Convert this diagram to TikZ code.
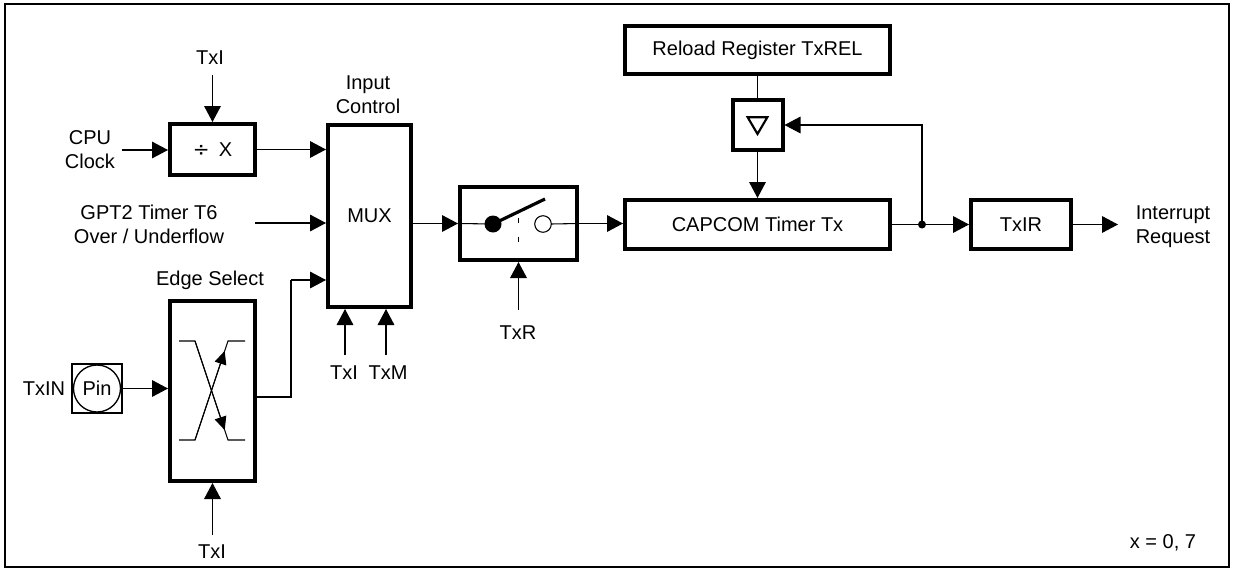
\documentclass[tikz,border=0pt]{standalone}
\usepackage{fontspec}
\setmainfont{Liberation Sans}
\newfontfamily\symfont{DejaVu Sans}
\usetikzlibrary{arrows.meta,calc}
\begin{document}
\begin{tikzpicture}[x=0.75pt,y=-0.75pt,
  font=\fontsize{15}{18}\selectfont,
  conn/.style={line width=0.8pt},
  arr/.style={conn,-{Triangle[length=12pt,width=12.5pt]}},
  sarr/.style={conn,-{Triangle[length=10pt,width=9pt]}},
  blk/.style={draw,line width=3pt,rectangle,inner sep=0pt,align=center},
  lbl/.style={inner sep=0pt,align=center}]
\useasboundingbox (0,0) rectangle (1234,571);
\draw[line width=1.5pt] (5,4) rectangle (1229,567);

% blocks
\node[blk,minimum width=85*0.75pt,minimum height=51*0.75pt] (div) at (212.5,149.5) {{\symfont\fontsize{15}{15}\selectfont ÷}\hspace{7pt}X};
\node[blk,minimum width=83*0.75pt,minimum height=182*0.75pt] (mux) at (369.5,216) {MUX};
\node[blk,minimum width=117*0.75pt,minimum height=73*0.75pt] (sw) at (518.5,223.5) {};
\node[blk,minimum width=265*0.75pt,minimum height=49*0.75pt] (cap) at (757.5,224.5) {CAPCOM Timer Tx};
\node[blk,minimum width=265*0.75pt,minimum height=48*0.75pt] (rel) at (757.5,50) {Reload Register TxREL};
\node[blk,minimum width=50*0.75pt,minimum height=50*0.75pt] (tri) at (757.5,125) {};
\node[blk,minimum width=100*0.75pt,minimum height=49*0.75pt] (txir) at (1021,224.5) {TxIR};
\node[blk,minimum width=85*0.75pt,minimum height=180*0.75pt] (edge) at (212.5,391) {};
\node[draw,line width=0.8pt,minimum width=50*0.75pt,minimum height=49*0.75pt,inner sep=0pt] (pin) at (97,388.5) {};
\node[draw,circle,line width=1pt,minimum size=47*0.75pt,inner sep=0pt] (pinc) at (97,388.5) {Pin};

% labels
\node[lbl] (cpu) at (90,150) {CPU\\Clock};
\node[lbl] (gpt) at (149,224) {GPT2 Timer T6\\Over / Underflow};
\node[lbl] (es) at (210,280) {Edge Select};
\node[lbl] (ic) at (368,95) {Input\\Control};
\node[lbl] (txi1) at (210,58) {TxI};
\node[lbl] (txin) at (44,388.5) {TxIN};
\node[lbl] (txi2) at (212,552) {TxI};
\node[lbl] (txi3) at (344,373) {TxI};
\node[lbl] (txm) at (388,373) {TxM};
\node[lbl] (txr) at (518,333) {TxR};
\node[lbl] (irq) at (1173,227) {Interrupt\\Request};
\node[lbl] (xeq) at (1163,543) {x = 0, 7};

% free ends
\coordinate (cpuo) at (122,150);
\coordinate (gpto) at (255,223);
\coordinate (txi1o) at (212.5,75);
\coordinate (txi2o) at (212.5,535);
\coordinate (m1) at (345,355);
\coordinate (m2) at (386,355);
\coordinate (txro) at (518.5,310);
\coordinate (eo) at (255,397);
\coordinate (ej) at (291,280);
\coordinate (jn) at (922,224.5);
\coordinate (out) at (1118,224.5);

% connectors
\draw[arr] (cpuo) -- (cpuo -| div.west);
\draw[arr] (txi1o) -- (div.north);
\draw[arr] (div.east) -- (div.east -| mux.west);
\draw[arr] (gpto) -- (gpto -| mux.west);
\draw[conn] (eo) -| (ej);
\draw[arr] (ej) -- (ej -| mux.west);
\draw[arr] (pin.east) -- (pin.east -| edge.west);
\draw[arr] (txi2o) -- (edge.south);
\draw[arr] (m1) -- (m1 |- mux.south);
\draw[arr] (m2) -- (m2 |- mux.south);
\draw[arr] (mux.east |- sw.west) -- (sw.west);
\draw[arr] (txro) -- (sw.south);
\draw[arr] (sw.east) -- (sw.east -| cap.west);
\draw[conn] (rel.south) -- (tri.north);
\draw[arr] (tri.south) -- (cap.north);
\draw[arr] (cap.east) -- (txir.west);
\draw[arr] (jn) |- (tri.east);
\fill (jn) circle[radius=4];
\draw[arr] (txir.east) -- (out);

% switch interior
\coordinate (sd) at (493,224);
\coordinate (so) at (543,224);
\draw[conn] (sw.west) -- (sd);
\fill (sd) circle[radius=8.5];
\draw[line width=2.4pt] (sd) -- (545,199);
\draw[line width=0.8pt] (so) circle[radius=8.3];
\draw[conn] (551.3,224) -- (sw.east);
\draw[conn,dash pattern=on 4pt off 10pt] (518.5,218) -- (518.5,245);

% nabla
\draw[line width=1.6pt,line join=miter] (747.7,117.3) -- (767.3,117.3) -- (757.5,134) -- cycle;

% edge select interior
\draw[conn] (179,341) -- (195,341) -- (228,440) -- (245,440);
\draw[conn] (179,440) -- (195,440) -- (228,341) -- (245,341);
\draw[sarr] (195,440) -- ($(195,440)!0.9!(228,341)$);
\draw[sarr] (195,341) -- ($(195,341)!0.9!(228,440)$);
\end{tikzpicture}
\end{document}
